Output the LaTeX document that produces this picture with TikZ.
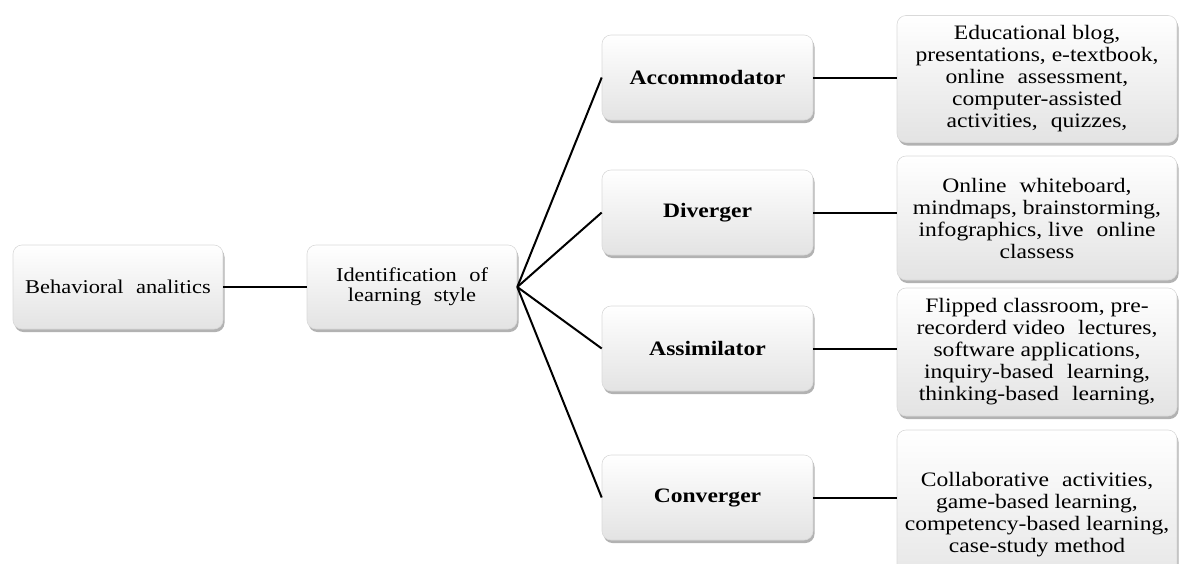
\documentclass[tikz,border=0pt]{standalone}
\usepackage{fontspec}
\setmainfont{Liberation Serif}[FakeStretch=1.15]
\usetikzlibrary{shadows}
\newcommand{\wsp}{\hspace{0.35em}}
\tikzset{
  box/.style={draw=gray!30, line width=0.6pt, rounded corners=9pt,
    top color=white, bottom color=gray!22,
    drop shadow={shadow xshift=1.5pt, shadow yshift=-3pt, opacity=0.5, fill=black!60},
    align=center, inner sep=0pt},
  mainbox/.style={box, minimum width=210pt, minimum height=84pt,
    font=\fontsize{19.5}{20}\selectfont},
  stylebox/.style={box, minimum width=211pt, minimum height=85pt,
    font=\bfseries\fontsize{20.5}{22}\selectfont},
  detailbox/.style={box, minimum width=280pt,
    font=\fontsize{20.5}{22}\selectfont},
  conn/.style={line width=2pt, black}
}
\begin{document}
\begin{tikzpicture}[x=1pt, y=1pt]
\useasboundingbox (0,0) rectangle (1179,-563);
\node[mainbox] (ba) at (118,-287) {Behavioral\wsp{} analitics};
\node[mainbox] (ils) at (412,-287) {Identification\wsp{} of\\learning\wsp{} style};
\node[stylebox] (acc) at (707.5,-77.5) {Accommodator};
\node[stylebox] (div) at (707.5,-212.5) {Diverger};
\node[stylebox] (asm) at (707.5,-348.5) {Assimilator};
\node[stylebox] (con) at (707.5,-497.5) {Converger};
\node[detailbox, minimum height=127pt] (d1) at (1037,-79) {Educational blog,\\presentations, e-textbook,\\online\wsp{} assessment,\\computer-assisted\\activities,\wsp{} quizzes,};
\node[detailbox, minimum height=124pt] (d2) at (1037,-218) {Online\wsp{} whiteboard,\\mindmaps, brainstorming,\\infographics, live\wsp{} online\\classess};
\node[detailbox, minimum height=128pt] (d3) at (1037,-352) {Flipped classroom, pre-\\recorderd video\wsp{} lectures,\\software applications,\\inquiry-based\wsp{} learning,\\thinking-based\wsp{} learning,};
\node[detailbox, minimum height=170pt] (d4) at (1037,-515) {Collaborative\wsp{} activities,\\game-based learning,\\competency-based learning,\\case-study method};
\draw[conn] (ba.east) -- (ils.west);
\foreach \n in {acc,div,asm,con}{
  \draw[conn] (ils.east) -- (\n.west);
}
\draw[conn] (acc.east) -- (acc.east -| d1.west);
\draw[conn] (div.east) -- (div.east -| d2.west);
\draw[conn] (asm.east) -- (asm.east -| d3.west);
\draw[conn] (con.east) -- (con.east -| d4.west);
\end{tikzpicture}
\end{document}
